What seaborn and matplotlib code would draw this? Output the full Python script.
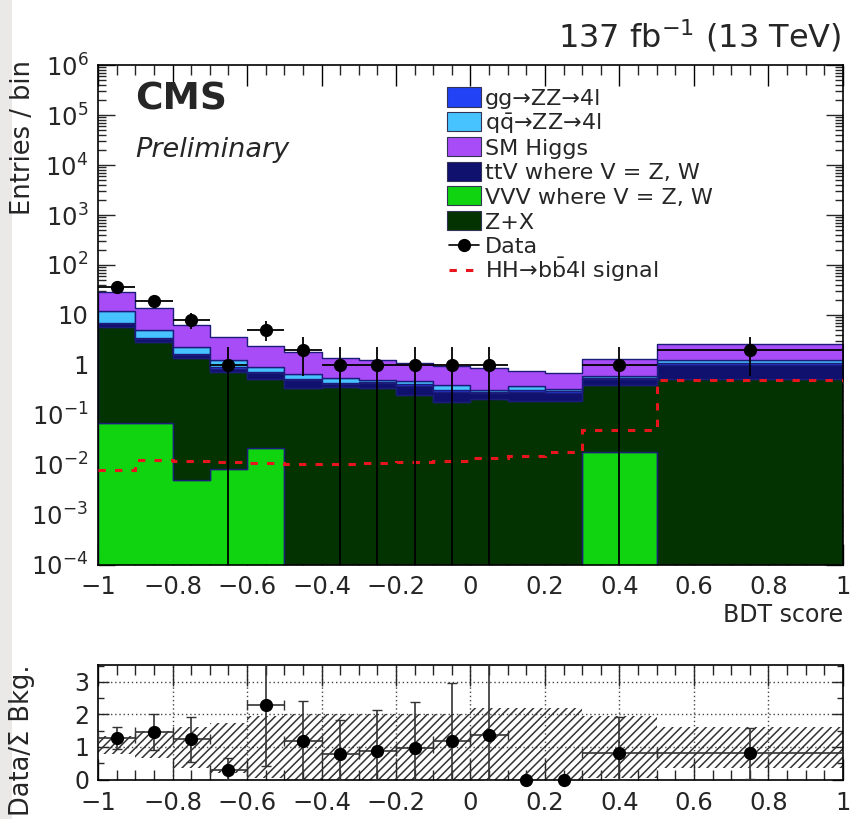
import numpy as np
import pandas as pd
import matplotlib
matplotlib.use("Agg")
import matplotlib.pyplot as plt
import seaborn as sns
from matplotlib.patches import Rectangle
from matplotlib.lines import Line2D
from matplotlib.ticker import FixedLocator, LogLocator, NullFormatter, MultipleLocator

# ---------------- data ----------------
bin_edges = [-1.0, -0.9, -0.8, -0.7, -0.6, -0.5, -0.4, -0.3, -0.2, -0.1,
             0.0, 0.1, 0.2, 0.3, 0.5, 1.0]
bin_centers = [-0.95, -0.85, -0.75, -0.65, -0.55, -0.45, -0.35, -0.25, -0.15,
               -0.05, 0.05, 0.15, 0.25, 0.4, 0.75]

vvv   = [0.069, 0.069, 0.0049, 0.0082, 0.022, 0, 0, 0, 0, 0, 0, 0, 0, 0.0185, 0]
zx    = [5.7, 2.85, 1.36, 0.70, 0.50, 0.35, 0.36, 0.35, 0.255, 0.18, 0.21, 0.19, 0.19, 0.375, 0.52]
ttv   = [1.0, 0.45, 0.22, 0.14, 0.16, 0.14, 0.05, 0.09, 0.13, 0.11, 0.06, 0.10, 0.09, 0.12, 0.50]
ggzz  = [0.2, 0.15, 0.08, 0.05, 0.04, 0.035, 0.02, 0.02, 0.035, 0.03, 0.015, 0.03, 0.02, 0.03, 0.08]
qqzz  = [4.8, 1.6, 0.6, 0.38, 0.17, 0.125, 0.12, 0.04, 0.06, 0.08, 0.036, 0.055, 0.03, 0.055, 0.15]
higgs = [17.0, 8.5, 4.0, 2.3, 1.46, 1.2, 0.83, 0.76, 0.62, 0.54, 0.55, 0.40, 0.37, 0.74, 1.43]

signal = [0.0081, 0.0126, 0.0122, 0.0113, 0.0108, 0.0105, 0.0105, 0.011, 0.0116,
          0.0123, 0.0136, 0.015, 0.018, 0.049, 0.50]

data_counts = [36, 19, 8, 1, 5, 2, 1, 1, 1, 1, 1, 0, 0, 1, 2]
data_err_lo = [6.0, 4.4, 2.8, 1.0, 2.0, 1.4, 1.0, 1.0, 1.0, 1.0, 1.0, 0, 0, 1.0, 1.4]
data_err_hi = [6.0, 4.4, 3.0, 1.3, 2.7, 1.6, 1.3, 1.3, 1.3, 1.3, 1.3, 0, 0, 1.3, 1.6]

ratio_vals   = [1.29, 1.45, 1.23, 0.29, 2.28, 1.17, 0.77, 0.88, 0.97, 1.18, 1.38, 0.0, 0.0, 0.80, 0.80]
ratio_err_hi = [0.33, 0.55, 0.68, 0.36, 2.0, 1.25, 1.06, 1.25, 1.42, 1.79, 2.5, 0, 0, 1.13, 0.79]
ratio_err_lo = [0.34, 0.53, 0.70, 0.29, 1.87, 1.17, 0.77, 0.88, 0.97, 1.18, 1.38, 0, 0, 0.80, 0.78]

band_hi = [1.33, 1.5, 1.6, 1.75, 1.95, 2.0, 2.0, 2.0, 2.0, 2.0, 2.2, 2.2, 2.2, 1.95, 1.62]
band_lo = [0.78, 0.65, 0.35, 0.2, 0.05, 0, 0, 0, 0, 0, 0, 0, 0, 0.05, 0.34]

process_names = ["gg\u2192ZZ\u21924l", "q$\\bar{\\mathrm{q}}$\u2192ZZ\u21924l", "SM Higgs",
                 "ttV where V = Z, W", "VVV where V = Z, W", "Z+X"]
process_colors = ["#2142f5", "#47c4ff", "#a84cf7", "#10106e", "#10d410", "#033300"]
data_label = "Data"
signal_label = "HH\u2192b$\\bar{\\mathrm{b}}$4l signal"

x_tick_vals = [-1, -0.8, -0.6, -0.4, -0.2, 0, 0.2, 0.4, 0.6, 0.8, 1]
x_tick_labels = ["\u22121", "\u22120.8", "\u22120.6", "\u22120.4", "\u22120.2", "0",
                 "0.2", "0.4", "0.6", "0.8", "1"]
y_tick_vals = [1e-4, 1e-3, 1e-2, 1e-1, 1, 10, 1e2, 1e3, 1e4, 1e5, 1e6]
y_tick_labels = [r"$10^{-4}$", r"$10^{-3}$", r"$10^{-2}$", r"$10^{-1}$", "1", "10",
                 r"$10^{2}$", r"$10^{3}$", r"$10^{4}$", r"$10^{5}$", r"$10^{6}$"]
r_tick_vals = [0, 1, 2, 3]
r_tick_labels = ["0", "1", "2", "3"]

# ---------------- style ----------------
sns.set_theme(style="ticks")
plt.rcParams["font.family"] = ["DejaVu Sans"]
plt.rcParams["mathtext.fontset"] = "dejavusans"
plt.rcParams["hatch.linewidth"] = 1.1

W, H = 854, 819
fig = plt.figure(figsize=(W / 100, H / 100), dpi=100)
fig.patch.set_facecolor("white")
fig.patches.append(Rectangle((0, 0), 12 / W, 1, transform=fig.transFigure,
                             facecolor="#ebe8e8", edgecolor="none", zorder=-5))

def fx(px):
    return px / W

def fy(py):
    return 1 - py / H

ax = fig.add_axes([fx(98), fy(565), fx(843) - fx(98), fy(65) - fy(565)])
rax = fig.add_axes([fx(98), fy(779.5), fx(843) - fx(98), fy(665) - fy(779.5)])

# ---------------- stacked backgrounds via seaborn ----------------
series = {process_names[0]: ggzz, process_names[1]: qqzz, process_names[2]: higgs,
          process_names[3]: ttv, process_names[4]: vvv, process_names[5]: zx}
rows = []
for name, vals in series.items():
    for c, v in zip(bin_centers, vals):
        rows.append({"score": c, "w": v, "process": name})
df = pd.DataFrame(rows)
palette = dict(zip(process_names, process_colors))
# first hue level ends on top of the stack
stack_order = [process_names[2], process_names[1], process_names[0],
               process_names[3], process_names[5], process_names[4]]
sns.histplot(data=df, x="score", weights="w", hue="process", hue_order=stack_order,
             bins=bin_edges, multiple="stack", element="step", fill=True,
             palette=palette, alpha=1, linewidth=1.0, edgecolor="#1c1c7a",
             legend=False, ax=ax)

# signal
sig_dash = (0, (2.4, 3.0))
ax.stairs(signal, bin_edges, baseline=None, color="#e8141e", linewidth=2.2,
          linestyle=sig_dash, zorder=5)

# data
edges = np.array(bin_edges)
centers = np.array(bin_centers)
half = np.diff(edges) / 2
counts = np.array(data_counts, dtype=float)
m = counts > 0
ax.errorbar(centers[m], counts[m], xerr=half[m],
            yerr=[np.array(data_err_lo)[m], np.array(data_err_hi)[m]],
            fmt="o", color="black", ms=8.5, elinewidth=1.3, capsize=0, zorder=10)

ax.set_yscale("log")
ax.set_xlim(-1, 1)
ax.set_ylim(1e-4, 1e6)
ax.set_xlabel("")
ax.set_ylabel("")
ax.xaxis.set_major_locator(FixedLocator(x_tick_vals))
ax.set_xticklabels(x_tick_labels)
ax.xaxis.set_minor_locator(MultipleLocator(0.05))
ax.yaxis.set_major_locator(FixedLocator(y_tick_vals))
ax.set_yticklabels(y_tick_labels)
ax.yaxis.set_minor_locator(LogLocator(base=10, subs=np.arange(2, 10), numticks=30))
ax.yaxis.set_minor_formatter(NullFormatter())
ax.tick_params(axis="x", which="major", direction="in", length=15, width=1,
               labelsize=17.5, pad=7, top=True, color="black")
ax.tick_params(axis="x", which="minor", direction="in", length=7.5, width=1, top=True)
ax.tick_params(axis="y", which="major", direction="in", length=12, width=1,
               labelsize=17.5, pad=7, right=True)
ax.tick_params(axis="y", which="minor", direction="in", length=6, width=1, right=True)
for s in ax.spines.values():
    s.set_linewidth(1.2)
    s.set_color("black")
    s.set_visible(True)

# ---------------- legend (ROOT-style rows) ----------------
leg_x0, leg_x1, leg_text_x = 447, 481, 485
leg_y0, leg_step, leg_fs, box_h = 97, 24.7, 16, 19
for i, (lab, col) in enumerate(zip(process_names, process_colors)):
    yc = leg_y0 + i * leg_step
    fig.patches.append(Rectangle((fx(leg_x0), fy(yc + box_h / 2)), fx(leg_x1) - fx(leg_x0),
                                 box_h / H, transform=fig.transFigure, facecolor=col,
                                 edgecolor="#333355", linewidth=0.8, zorder=20))
    fig.text(fx(leg_text_x), fy(yc + 8.2), lab, fontsize=leg_fs, va="baseline", ha="left")
yc = leg_y0 + 6 * leg_step
fig.add_artist(Line2D([fx(leg_x0 + 2), fx(leg_x1 - 2)], [fy(yc), fy(yc)],
                      transform=fig.transFigure, color="black", lw=1.2))
fig.add_artist(Line2D([fx((leg_x0 + leg_x1) / 2)], [fy(yc)], transform=fig.transFigure,
                      color="black", marker="o", ms=8.5, lw=0))
fig.text(fx(leg_text_x), fy(yc + 8.2), data_label, fontsize=leg_fs, va="baseline", ha="left")
yc = leg_y0 + 7 * leg_step
fig.add_artist(Line2D([fx(leg_x0 + 2), fx(leg_x1 - 2)], [fy(yc), fy(yc)],
                      transform=fig.transFigure, color="#e8141e", lw=2.2, linestyle=sig_dash))
fig.text(fx(leg_text_x), fy(yc + 8.2), signal_label, fontsize=leg_fs, va="baseline", ha="left")

# ---------------- ratio panel ----------------
rax.fill_between(edges, np.append(band_lo, band_lo[-1]), np.append(band_hi, band_hi[-1]),
                 step="post", facecolor="none", edgecolor="#333333", hatch="////",
                 linewidth=0, zorder=1)
rv = np.array(ratio_vals)
nz = counts > 0
rax.errorbar(centers[nz], rv[nz], xerr=half[nz],
             yerr=[np.array(ratio_err_lo)[nz], np.array(ratio_err_hi)[nz]],
             fmt="o", color="black", ecolor="#333333", ms=8.5, elinewidth=1.2,
             capsize=3.5, zorder=10)
rax.plot(centers[~nz], rv[~nz], "o", color="black", ms=8.5, clip_on=False, zorder=10)

rax.set_xlim(-1, 1)
rax.set_ylim(0, 3.52)
rax.set_xlabel("")
rax.set_ylabel("")
rax.xaxis.set_major_locator(FixedLocator(x_tick_vals))
rax.set_xticklabels(x_tick_labels)
rax.xaxis.set_minor_locator(MultipleLocator(0.05))
rax.yaxis.set_major_locator(FixedLocator(r_tick_vals))
rax.set_yticklabels(r_tick_labels)
rax.yaxis.set_minor_locator(MultipleLocator(0.5))
rax.tick_params(axis="x", which="major", direction="in", length=15, width=1,
                labelsize=17.5, pad=8, top=True)
rax.tick_params(axis="x", which="minor", direction="in", length=7, width=1, top=True)
rax.tick_params(axis="y", which="major", direction="in", length=8, width=1,
                labelsize=17, pad=6, right=True)
rax.tick_params(axis="y", which="minor", direction="in", length=4, width=1, right=True)
for gx in [-0.8, -0.6, -0.4, -0.2, 0, 0.2, 0.4, 0.6, 0.8]:
    rax.axvline(gx, color="#444444", lw=1.0, ls=(0, (1, 2)), zorder=0.5)
for gy in [1, 2, 3]:
    rax.axhline(gy, color="#444444", lw=1.0, ls=(0, (1, 2)), zorder=0.5)
for s in rax.spines.values():
    s.set_linewidth(1.2)
    s.set_color("black")
    s.set_visible(True)

# ---------------- texts ----------------
fig.text(fx(135), fy(110), "CMS", fontsize=27, fontweight="bold", va="baseline", ha="left")
fig.text(fx(135), fy(157), "Preliminary", fontsize=19.5, style="italic", va="baseline", ha="left")
fig.text(fx(841), fy(48), r"137 fb$^{-1}$ (13 TeV)", fontsize=23, va="baseline", ha="right")
fig.text(fx(843), fy(622), "BDT score", fontsize=17, va="baseline", ha="right")
fig.text(fx(23), fy(60), "Entries / bin", fontsize=18.5, rotation=90, va="top", ha="center")
fig.text(fx(22), fy(665), "Data/\u03a3 Bkg.", fontsize=18.5, rotation=90, va="top", ha="center")

fig.savefig("out.png", dpi=100)
